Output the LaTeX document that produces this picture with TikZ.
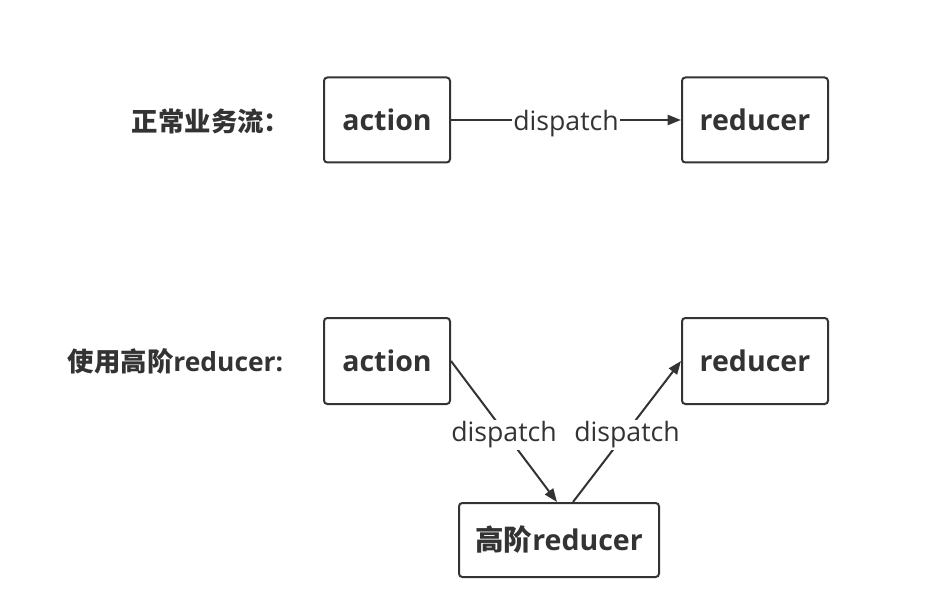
\documentclass[tikz,border=0pt]{standalone}
\usepackage{fontspec}
\setmainfont{Open Sans}
\newfontfamily\cjk{Noto Sans CJK SC}
\usetikzlibrary{arrows.meta,calc}
\definecolor{ink}{HTML}{333333}
\tikzset{
  box/.style={draw=ink, line width=1.5pt, rounded corners=2.5pt, fill=white, inner sep=0pt, font=\fontsize{21.4}{24}\selectfont\bfseries, text=ink},
  conn/.style={draw=ink, line width=1.5pt, -{Triangle[length=10pt,width=7.5pt]}},
  lbl/.style={fill=white, inner sep=1pt, font=\fontsize{20}{23}\selectfont, text=ink, yshift=-2.5pt},
  side/.style={font=\fontsize{19.8}{23}\selectfont\bfseries, text=ink, inner sep=0pt}
}
\begin{document}
\begin{tikzpicture}[x=0.75pt,y=-0.75pt]
\useasboundingbox (0,0) rectangle (949,595);
\node[box, minimum width=94.5pt, minimum height=63.75pt] (a1) at (387,120) {action};
\node[box, minimum width=109.5pt, minimum height=63.75pt] (r1) at (755,120) {reducer};
\node[box, minimum width=94.5pt, minimum height=64.5pt] (a2) at (387,361) {action};
\node[box, minimum width=109.5pt, minimum height=64.5pt] (r2) at (755,361) {reducer};
\node[box, minimum width=150pt, minimum height=55.5pt] (hr) at (559,540) {{\cjk 高阶}reducer};
\node[side] (t1) at (211,121) {{\cjk 正常业务流：}};
\node[side] (t2) at (175.5,361) {{\cjk 使用高阶}reducer:};
\draw[conn] (a1.east) -- node[lbl] {dispatch} (r1.west);
\coordinate (h1) at ($(hr.north)+(-2,0)$);
\coordinate (h2) at ($(hr.north)+(14,0)$);
\draw[conn] (a2.east) -- node[lbl] {dispatch} (h1);
\draw[conn] (h2) -- node[lbl] {dispatch} (r2.west);
\end{tikzpicture}
\end{document}
